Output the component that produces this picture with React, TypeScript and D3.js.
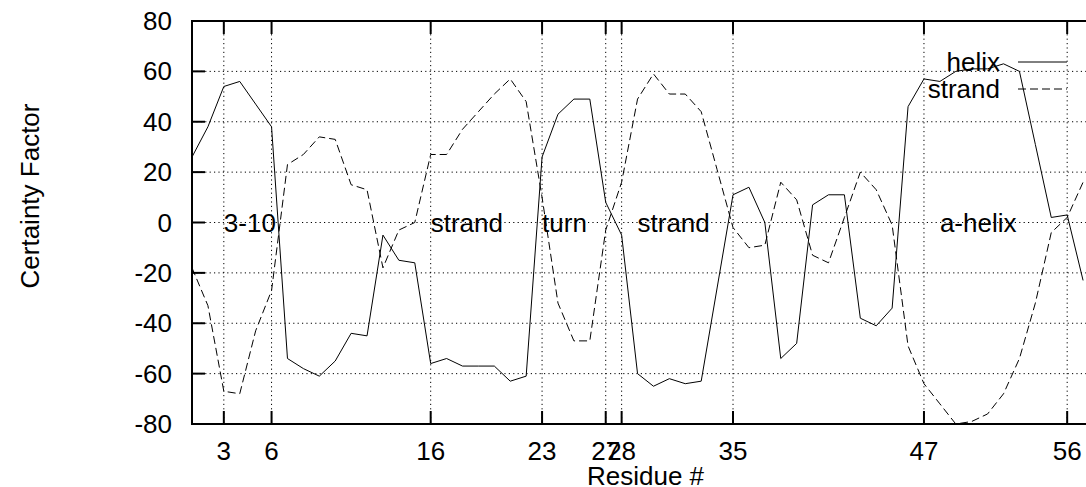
import React from "react";
import * as d3 from "d3";

const residues = [1,2,3,4,5,6,7,8,9,10,11,12,13,14,15,16,17,18,19,20,21,22,23,24,25,26,27,28,29,30,31,32,33,34,35,36,37,38,39,40,41,42,43,44,45,46,47,48,49,50,51,52,53,54,55,56,57];
const helix = [26,38,54,56,47,38,-54,-58,-61,-55,-44,-45,-5,-15,-16,-56,-54,-57,-57,-57,-63,-61,26,43,49,49,8,-5,-60,-65,-62,-64,-63,-26,11,14,0,-54,-48,7,11,11,-38,-41,-34,46,57,56,60,61,61,63,60,31,2,3,-23];
const strand = [-18,-33,-67,-68,-43,-27,23,27,34,33,15,13,-18,-3,0,27,27,37,44,51,57,48,10,-32,-47,-47,-3,16,49,59,51,51,44,21,-2,-10,-9,16,9,-13,-16,2,20,13,-1,-49,-64,-72,-80,-79,-76,-68,-54,-32,-4,2,16];
const xTicks = [3,6,16,23,27,28,35,47,56];
const yTicks = [-80,-60,-40,-20,0,20,40,60,80];
const regionLabels = ["3-10","strand","turn","strand","a-helix"];
const regionStarts = [3,16,23,29,48];
const seriesNames = ["helix","strand"];

const W = 1086, H = 487;
const FONT = "'Liberation Sans', Arial, Helvetica, sans-serif";

export default function App() {
  const x = d3.scaleLinear().domain([1, 58]).range([192, 1099]);
  const y = d3.scaleLinear().domain([-80, 80]).range([424, 21]);
  const x0 = x.range()[0], x1 = x.range()[1];
  const y0 = y.range()[0], y1 = y.range()[1];
  const line = d3.line<number>().x((_, i) => x(residues[i])).y((d) => y(d));
  const tickLen = 13;
  const fs = 26;

  return (
    <svg width={W} height={H} style={{ position: "absolute", left: 0, top: 0, background: "#fff" }} fontFamily={FONT}>
      <rect x={0} y={0} width={W} height={H} fill="#fff" />
      {/* grid */}
      {yTicks.filter((t) => t !== -80 && t !== 80).map((t) => (
        <line key={"gy" + t} x1={x0} x2={x1} y1={y(t)} y2={y(t)} stroke="#000" strokeWidth={1} strokeDasharray="1.2,3.2" />
      ))}
      {xTicks.map((t) => (
        <line key={"gx" + t} x1={x(t)} x2={x(t)} y1={y1} y2={y0} stroke="#000" strokeWidth={1} strokeDasharray="1.2,3.2" />
      ))}
      {/* ticks */}
      {xTicks.map((t) => (
        <g key={"tx" + t}>
          <line x1={x(t)} x2={x(t)} y1={y0} y2={y0 - tickLen} stroke="#000" strokeWidth={2} />
          <line x1={x(t)} x2={x(t)} y1={y1} y2={y1 + tickLen} stroke="#000" strokeWidth={2} />
          <text x={x(t)} y={460} fontSize={fs} textAnchor="middle">{t}</text>
        </g>
      ))}
      {yTicks.map((t) => (
        <g key={"ty" + t}>
          <line x1={x0} x2={x0 + tickLen} y1={y(t)} y2={y(t)} stroke="#000" strokeWidth={2} />
          <line x1={x1} x2={x1 - tickLen} y1={y(t)} y2={y(t)} stroke="#000" strokeWidth={2} />
          <text x={172} y={y(t)} fontSize={fs} textAnchor="end" dominantBaseline="central">{t}</text>
        </g>
      ))}
      {/* region labels */}
      {regionLabels.map((l, i) => (
        <text key={"rl" + i} x={x(regionStarts[i])} y={y(0)} fontSize={fs} dominantBaseline="central">{l}</text>
      ))}
      {/* data */}
      <path d={line(helix) || ""} fill="none" stroke="#000" strokeWidth={1} />
      <path d={line(strand) || ""} fill="none" stroke="#000" strokeWidth={1} strokeDasharray="8,4" />
      {/* legend */}
      <text x={1000} y={62} fontSize={fs} textAnchor="end" dominantBaseline="central">{seriesNames[0]}</text>
      <line x1={1018} x2={1067} y1={62} y2={62} stroke="#000" strokeWidth={1} />
      <text x={1000} y={89} fontSize={fs} textAnchor="end" dominantBaseline="central">{seriesNames[1]}</text>
      <line x1={1018} x2={1067} y1={89} y2={89} stroke="#000" strokeWidth={1} strokeDasharray="8,4" />
      {/* border */}
      <rect x={x0} y={y1} width={x1 - x0} height={y0 - y1} fill="none" stroke="#000" strokeWidth={2} />
      {/* axis titles */}
      <text x={(x0 + x1) / 2} y={485} fontSize={fs} textAnchor="middle">Residue #</text>
      <text transform={`translate(30,196) rotate(-90)`} fontSize={fs} textAnchor="middle" dominantBaseline="central">Certainty Factor</text>
    </svg>
  );
}
